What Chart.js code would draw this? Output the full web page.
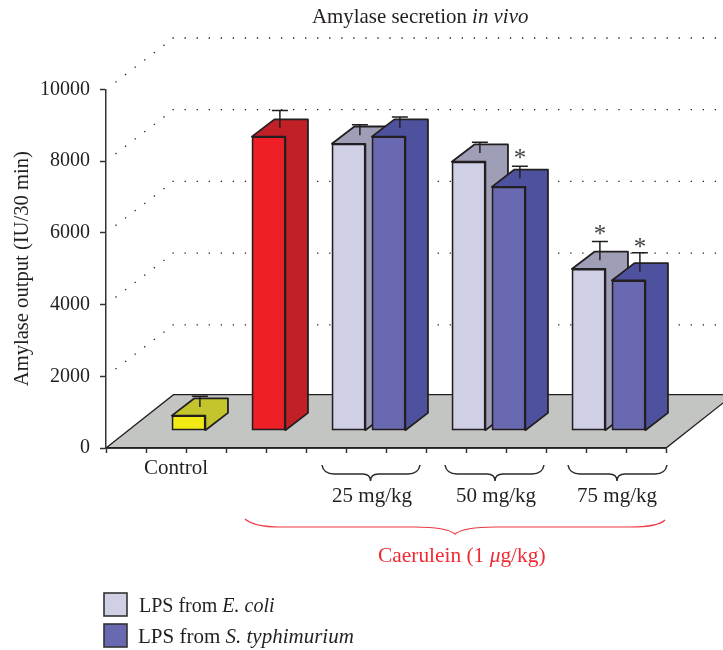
<!DOCTYPE html>
<html>
<head>
<meta charset="utf-8">
<style>
  html, body { margin: 0; padding: 0; background: #fff; }
  canvas { display: block; }
</style>
<script src="https://cdn.jsdelivr.net/npm/chart.js@4"></script>
</head>
<body>
<canvas id="amylaseChart" width="723" height="650"></canvas>
<script>
// slots along the x axis, only Control carries a tick label
const slotLabels = ['', 'Control', '', '', '', '', '', '', '', '', '', '', '', ''];

const controlValues = [null, 420, null, null, null, null, null, null, null, null, null, null, null, null];
const caeruleinValues = [null, null, null, 8200, null, null, null, null, null, null, null, null, null, null];
const coliValues = [null, null, null, null, null, 8000, null, null, 7500, null, null, 4510, null, null];
const typhiValues = [null, null, null, null, null, null, 8200, null, null, 6800, null, null, 4190, null];

// upper error of each bar
const controlErrors = [null, 300, null, null, null, null, null, null, null, null, null, null, null, null];
const caeruleinErrors = [null, null, null, 490, null, null, null, null, null, null, null, null, null, null];
const coliErrors = [null, null, null, null, null, 290, null, null, 300, null, null, 525, null, null];
const typhiErrors = [null, null, null, null, null, null, 310, null, null, 330, null, null, 530, null];

// height of the significance stars
const coliStars = [null, null, null, null, null, null, null, null, null, null, null, 5580, null, null];
const typhiStars = [null, null, null, null, null, null, null, null, null, 7710, null, null, 5230, null];

const yTicks = [0, 2000, 4000, 6000, 8000, 10000];
const doseLabels = ['25 mg/kg', '50 mg/kg', '75 mg/kg'];

const SERIF = '"Liberation Serif", serif';
const INK = '#231f20';
const BAR_DX = 22.6, BAR_DY = -17.3;   // how far bars sit inside the floor, also their depth
const WALL_DX = 67.5, WALL_DY = -51.4;
const FLOOR_DY = -53.3;

function makeSet(label, values, errors, stars, front, shade, order) {
    return {
        label, data: values, errors, stars, shade, order,
        backgroundColor: front,
        borderColor: INK,
        borderWidth: 1.8,
        borderSkipped: false,
        barThickness: 33.5,
        grouped: false,
        clip: false
    };
}

function drawRuns(ctx, runs, x, y, size, color) {
    ctx.save();
    ctx.fillStyle = color;
    ctx.textAlign = 'left';
    ctx.textBaseline = 'alphabetic';
    runs.forEach(r => {
        ctx.font = (r[1] ? 'italic ' : '') + size + 'px ' + SERIF;
        ctx.fillText(r[0], x, y);
        x += ctx.measureText(r[0]).width;
    });
    ctx.restore();
}

// curly brace opening upward, tip points down
function brace(ctx, x0, tip, x1, top, mid, low) {
    ctx.beginPath();
    ctx.moveTo(x0, top);
    ctx.bezierCurveTo(x0 + 1, mid - 3, x0 + 5, mid, x0 + 12, mid);
    ctx.lineTo(tip - 8, mid);
    ctx.bezierCurveTo(tip - 3, mid, tip, mid + 2, tip, low);
    ctx.bezierCurveTo(tip, mid + 2, tip + 3, mid, tip + 8, mid);
    ctx.lineTo(x1 - 12, mid);
    ctx.bezierCurveTo(x1 - 5, mid, x1 - 1, mid - 3, x1, top);
    ctx.stroke();
}

const scenery = {
    id: 'scenery',
    // floor and dotted walls go under the axes
    beforeDraw(chart) {
        const { ctx, scales: { x, y } } = chart;
        const y0 = y.getPixelForValue(0);
        ctx.save();
        ctx.beginPath();
        ctx.moveTo(x.left, y0);
        ctx.lineTo(x.left + WALL_DX, y0 + FLOOR_DY);
        ctx.lineTo(x.right + WALL_DX, y0 + FLOOR_DY);
        ctx.lineTo(x.right, y0);
        ctx.closePath();
        ctx.fillStyle = '#c3c5c3';
        ctx.fill();
        ctx.strokeStyle = INK;
        ctx.lineWidth = 1.3;
        ctx.stroke();

        ctx.strokeStyle = INK;
        ctx.lineWidth = 1.3;
        ctx.setLineDash([1.3, 10.75]);
        yTicks.slice(1).forEach(v => {
            const py = y.getPixelForValue(v);
            ctx.beginPath();
            ctx.moveTo(x.left + 9.5, py - 7.2);
            ctx.lineTo(x.left + WALL_DX - 2, py + WALL_DY + 1.5);
            ctx.stroke();
            ctx.beginPath();
            ctx.moveTo(x.left + WALL_DX - 1, py + WALL_DY);
            ctx.lineTo(723, py + WALL_DY);
            ctx.stroke();
        });
        ctx.restore();
    },
    // side and top faces first, the library then paints the front on top
    beforeDatasetDraw(chart, args) {
        const { ctx } = chart;
        const ds = chart.data.datasets[args.index];
        ctx.save();
        ctx.translate(BAR_DX, BAR_DY);
        ctx.lineWidth = 1.8;
        ctx.strokeStyle = INK;
        ctx.lineJoin = 'round';
        ctx.fillStyle = ds.shade;
        args.meta.data.forEach((el, i) => {
            if (ds.data[i] == null) return;
            const { x, y, base, width } = el.getProps(['x', 'y', 'base', 'width'], true);
            const r = x + width / 2, l = x - width / 2;
            ctx.beginPath();
            ctx.moveTo(r, base);
            ctx.lineTo(r + BAR_DX, base + BAR_DY);
            ctx.lineTo(r + BAR_DX, y + BAR_DY);
            ctx.lineTo(l + BAR_DX, y + BAR_DY);
            ctx.lineTo(l, y);
            ctx.lineTo(r, y);
            ctx.closePath();
            ctx.fill();
            ctx.stroke();
        });
    },
    afterDatasetDraw(chart, args) {
        const { ctx, scales: { y: yScale } } = chart;
        const ds = chart.data.datasets[args.index];
        ctx.lineWidth = 1.5;
        ctx.strokeStyle = INK;
        args.meta.data.forEach((el, i) => {
            if (ds.data[i] == null) return;
            const { x, y } = el.getProps(['x', 'y'], true);
            const cx = x + BAR_DX / 2, cy = y + BAR_DY / 2;
            const capY = yScale.getPixelForValue(ds.data[i] + ds.errors[i]) + BAR_DY / 2;
            ctx.beginPath();
            ctx.moveTo(cx, cy);
            ctx.lineTo(cx, capY);
            ctx.moveTo(cx - 8, capY);
            ctx.lineTo(cx + 8, capY);
            ctx.stroke();
            if (ds.stars && ds.stars[i] != null) {
                ctx.fillStyle = '#444';
                ctx.font = '25px ' + SERIF;
                ctx.textAlign = 'center';
                ctx.textBaseline = 'middle';
                ctx.fillText('*', cx, yScale.getPixelForValue(ds.stars[i]) + 5);
            }
        });
        ctx.restore();
    },
    afterDraw(chart) {
        const { ctx } = chart;
        drawRuns(ctx, [['Amylase secretion ', false], ['in vivo', true]], 312, 23, 20.9, INK);

        // dose groups
        ctx.save();
        ctx.strokeStyle = '#2b2b2b';
        ctx.lineWidth = 1.5;
        brace(ctx, 322, 370.5, 420, 465, 474, 481);
        brace(ctx, 445, 495, 544, 465, 474, 481);
        brace(ctx, 568, 617, 667, 465, 474, 481);
        ctx.restore();
        [372, 496, 617].forEach((cx, i) => {
            ctx.save();
            ctx.font = '21px ' + SERIF;
            ctx.fillStyle = INK;
            ctx.textAlign = 'center';
            ctx.fillText(doseLabels[i], cx, 502);
            ctx.restore();
        });

        // caerulein brace
        ctx.save();
        ctx.strokeStyle = '#ee3a43';
        ctx.lineWidth = 1.2;
        ctx.beginPath();
        ctx.moveTo(245, 519);
        ctx.bezierCurveTo(252, 525, 265, 527, 280, 527);
        ctx.lineTo(415, 527);
        ctx.bezierCurveTo(438, 527, 450, 530, 455, 534);
        ctx.bezierCurveTo(460, 530, 472, 527, 495, 527);
        ctx.lineTo(630, 527);
        ctx.bezierCurveTo(648, 527, 660, 525, 665, 520);
        ctx.stroke();
        ctx.restore();
        drawRuns(ctx, [['Caerulein (1 ', false], ['\u03bc', true], ['g/kg)', false]], 378, 562, 21.4, '#ee2b34');

        // legend
        const legend = [
            { fill: '#cfcfe6', top: 593, x: 139, base: 612, size: 20, runs: [['LPS from ', false], ['E. coli', true]] },
            { fill: '#6869b0', top: 624, x: 138, base: 643, size: 21, runs: [['LPS from ', false], ['S. typhimurium', true]] }
        ];
        legend.forEach(item => {
            ctx.save();
            ctx.fillStyle = item.fill;
            ctx.strokeStyle = '#333';
            ctx.lineWidth = 1.6;
            ctx.fillRect(104, item.top, 23, 23);
            ctx.strokeRect(104, item.top, 23, 23);
            ctx.restore();
            drawRuns(ctx, item.runs, item.x, item.base, item.size, INK);
        });
    }
};

new Chart(document.getElementById('amylaseChart').getContext('2d'), {
    type: 'bar',
    data: {
        labels: slotLabels,
        datasets: [
            makeSet('Control', controlValues, controlErrors, null, '#f2ea14', '#c4c42c', 3),
            makeSet('Caerulein (1 \u03bcg/kg)', caeruleinValues, caeruleinErrors, null, '#ee1f26', '#c12026', 2),
            makeSet('LPS from E. coli', coliValues, coliErrors, coliStars, '#cfcfe6', '#9e9eb6', 1),
            makeSet('LPS from S. typhimurium', typhiValues, typhiErrors, typhiStars, '#6869b0', '#4e529e', 0)
        ]
    },
    options: {
        responsive: false,
        animation: false,
        layout: { padding: { top: 89.4, right: 57, left: 0, bottom: 0 } },
        plugins: { legend: { display: false }, tooltip: { enabled: false } },
        scales: {
            x: {
                grid: { drawOnChartArea: false, tickLength: 5, tickColor: '#333', tickWidth: 1.5 },
                border: { color: INK, width: 1.5 },
                ticks: {
                    color: INK,
                    autoSkip: false,
                    maxRotation: 0,
                    labelOffset: 10,
                    padding: 3,
                    font: { family: SERIF, size: 21 }
                },
                afterFit(scale) { scale.height = 202; }
            },
            y: {
                min: 0,
                max: 10000,
                grid: { drawOnChartArea: false, tickLength: 6, tickColor: '#333', tickWidth: 1.5 },
                border: { color: '#333', width: 1.5 },
                ticks: {
                    stepSize: 2000,
                    color: INK,
                    padding: 10,
                    font: { family: SERIF, size: 20 },
                    callback: v => String(v)
                },
                title: {
                    display: true,
                    text: 'Amylase output (IU/30 min)',
                    color: INK,
                    font: { family: SERIF, size: 20.6 },
                    padding: { top: 10, bottom: 0 }
                },
                afterFit(scale) { scale.width = 106; }
            }
        }
    },
    plugins: [scenery]
});
</script>
</body>
</html>
